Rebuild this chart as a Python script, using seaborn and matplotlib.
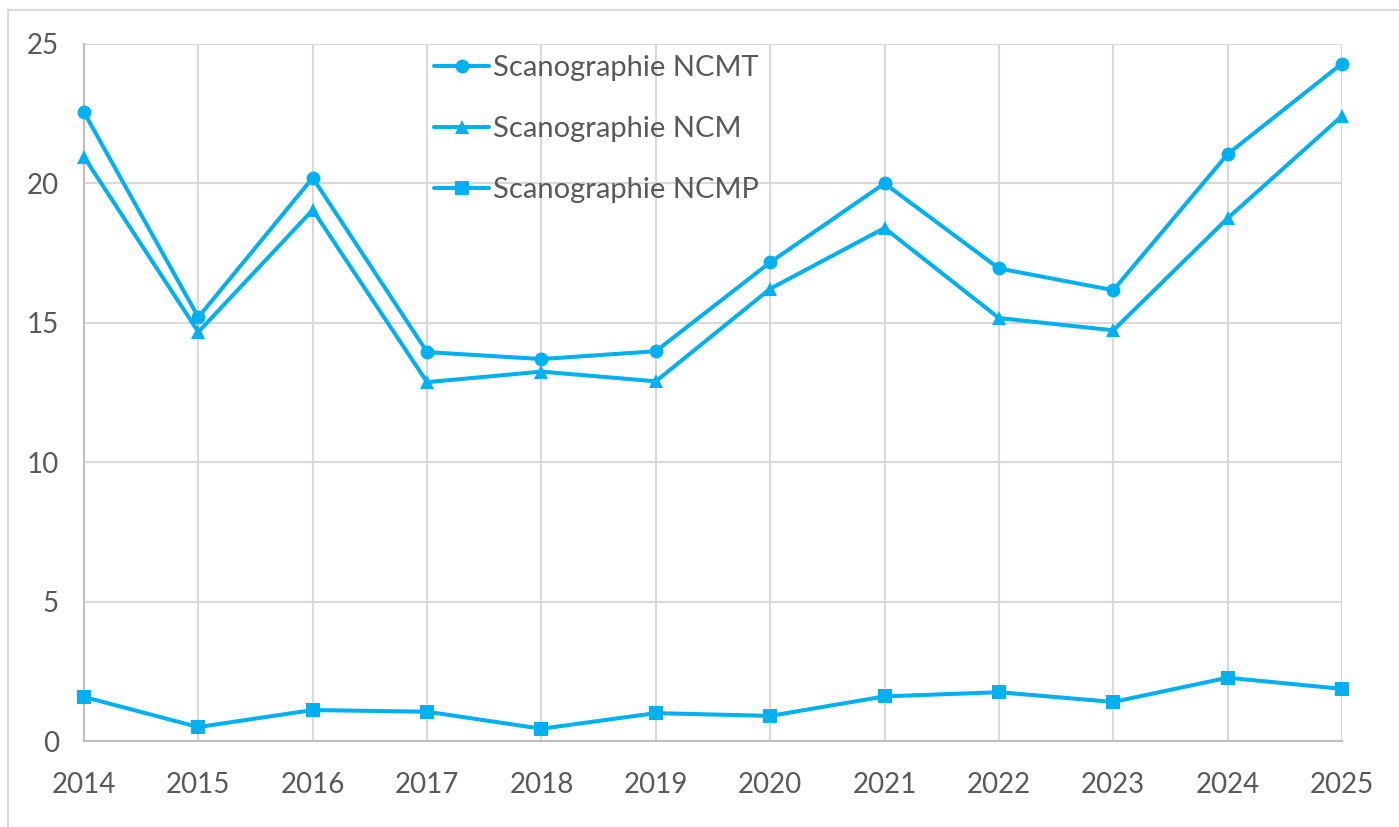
import pandas as pd
import matplotlib.pyplot as plt
import seaborn as sns
from matplotlib.lines import Line2D

years = [2014, 2015, 2016, 2017, 2018, 2019, 2020, 2021, 2022, 2023, 2024, 2025]
ncmt = [22.55, 15.2, 20.2, 13.95, 13.7, 13.98, 17.17, 20.0, 16.95, 16.17, 21.05, 24.3]
ncm = [20.95, 14.67, 19.05, 12.87, 13.25, 12.9, 16.22, 18.4, 15.17, 14.73, 18.75, 22.42]
ncmp = [1.58, 0.5, 1.11, 1.05, 0.44, 1.0, 0.9, 1.6, 1.75, 1.4, 2.27, 1.87]
series = ["Scanographie NCMT", "Scanographie NCM", "Scanographie NCMP"]

blue = "#00B0F0"
grid_col = "#d9d9d9"
text_col = "#595959"

df = pd.concat([
    pd.DataFrame({"annee": years, "valeur": v, "serie": s})
    for s, v in zip(series, [ncmt, ncm, ncmp])
])

sns.set_style("white")
plt.rcParams['font.family'] = ['Lato', 'DejaVu Sans']

fig = plt.figure(figsize=(13.99, 8.27), dpi=100)
ax = fig.add_axes([84 / 1399, 86 / 827, (1342 - 84) / 1399, (741 - 44) / 827])

markers = {series[0]: "o", series[1]: "^", series[2]: "s"}
sns.lineplot(
    data=df, x="annee", y="valeur", hue="serie", style="serie",
    palette=[blue] * 3, markers=markers, dashes=False,
    linewidth=2.9, markersize=10, markeredgewidth=0, legend=False, ax=ax,
    clip_on=False, zorder=3
)

ax.set_xlim(2014, 2025)
ax.set_ylim(0, 25)
ax.set_xticks(years)
ax.set_yticks([0, 5, 10, 15, 20, 25])
ax.grid(True, color=grid_col, linewidth=1.5)
ax.set_axisbelow(True)
ax.set_xlabel("")
ax.set_ylabel("")
for side in ["top", "right"]:
    ax.spines[side].set_visible(False)
for side in ["left", "bottom"]:
    ax.spines[side].set_color("#bfbfbf")
    ax.spines[side].set_linewidth(1.5)
ax.tick_params(axis="both", length=0, labelsize=20, colors=text_col)
ax.tick_params(axis="y", pad=18)
ax.tick_params(axis="x", pad=22)

handles = [Line2D([], [], color=blue, marker=markers[s], linewidth=2.9,
                  markersize=10, markeredgewidth=0) for s in series]
ax.legend(handles, series, loc="upper left", bbox_to_anchor=(434 / 1399, 1 - 55 / 827),
          bbox_transform=fig.transFigure, frameon=False, fontsize=21,
          labelcolor=text_col, handlelength=1.9, handletextpad=0.12,
          labelspacing=1.2, borderaxespad=0, borderpad=0)

# cadre exterieur (gauche et haut)
fig.add_artist(Line2D([8 / 1399, 8 / 1399], [0, 1 - 10 / 827], color=grid_col,
                      linewidth=1.5, transform=fig.transFigure))
fig.add_artist(Line2D([8 / 1399, 1], [1 - 10 / 827, 1 - 10 / 827], color=grid_col,
                      linewidth=1.5, transform=fig.transFigure))

plt.savefig("out.png", dpi=100)
plt.close()
